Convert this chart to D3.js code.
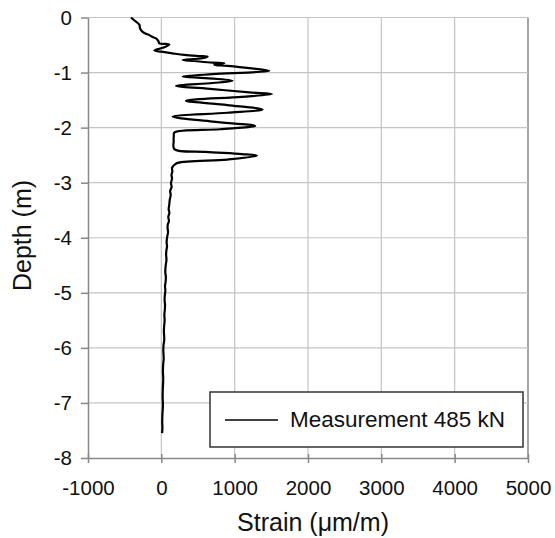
<!DOCTYPE html>
<html><head><meta charset="utf-8">
<script src="https://cdn.jsdelivr.net/npm/d3@7"></script>
<style>body{margin:0;background:#fff;} svg{display:block;} text{font-family:"Liberation Sans",Arial,sans-serif;fill:#111;}</style>
</head><body>
<svg id="c" width="555" height="538"></svg>
<script>
const xTicks = [-1000, 0, 1000, 2000, 3000, 4000, 5000];
const yTicks = [0, -1, -2, -3, -4, -5, -6, -7, -8];
const seriesName = "Measurement 485 kN";
const strain = [-413,-370,-300,-290,-255,-200,-163,-110,-72,-40,-27,60,109,20,-95,0,150,313,500,631,560,290,450,700,858,780,722,900,1200,1471,1300,700,290,600,971,700,200,700,1200,1508,1100,336,900,1380,900,154,700,1281,800,177,170,168,177,600,1100,1303,900,222,160,146,150,138,146,132,140,120,128,115,108,100,110,95,104,88,85,92,80,72,78,70,65,70,60,54,62,58,50,55,46,45,50,48,41,45,38,35,40,30,27,32,25,22,26,20,18,22,15,12,15,10,9];
const depth = [0,-0.05,-0.13,-0.20,-0.26,-0.30,-0.32,-0.36,-0.38,-0.43,-0.47,-0.48,-0.49,-0.55,-0.60,-0.62,-0.65,-0.68,-0.70,-0.71,-0.74,-0.77,-0.79,-0.82,-0.83,-0.85,-0.86,-0.88,-0.92,-0.965,-0.99,-1.03,-1.07,-1.10,-1.15,-1.19,-1.24,-1.30,-1.36,-1.39,-1.44,-1.51,-1.59,-1.67,-1.73,-1.80,-1.89,-1.97,-2.03,-2.09,-2.15,-2.25,-2.39,-2.44,-2.48,-2.51,-2.58,-2.64,-2.70,-2.73,-2.80,-2.86,-2.92,-3.01,-3.08,-3.15,-3.22,-3.31,-3.40,-3.48,-3.55,-3.62,-3.70,-3.76,-3.82,-3.90,-3.98,-4.08,-4.16,-4.22,-4.30,-4.40,-4.50,-4.62,-4.72,-4.80,-4.88,-4.95,-5.07,-5.15,-5.20,-5.30,-5.40,-5.50,-5.60,-5.70,-5.85,-5.95,-6.05,-6.20,-6.30,-6.45,-6.55,-6.76,-6.90,-7.05,-7.20,-7.35,-7.45,-7.55];

const svg = d3.select("#c");
const L = 88, R = 528, T = 17.5, B = 458;
const x = d3.scaleLinear().domain([-1000, 5000]).range([L, R]);
const y = d3.scaleLinear().domain([-8, 0]).range([B, T]);

// gridlines
svg.append("g").selectAll("line").data(xTicks.slice(1)).join("line")
  .attr("x1", d => x(d)).attr("x2", d => x(d)).attr("y1", T).attr("y2", B)
  .attr("stroke", d => d === 5000 ? "#888" : "#c4c4c4").attr("stroke-width", d => d === 5000 ? 1.5 : 1.2);
svg.append("g").selectAll("line").data(yTicks.slice(0, -1)).join("line")
  .attr("x1", L).attr("x2", R).attr("y1", d => y(d)).attr("y2", d => y(d))
  .attr("stroke", "#c4c4c4").attr("stroke-width", 1.2);

// axes
const fmt = d => String(d);
const xAxis = svg.append("g").attr("transform", `translate(0,${B})`)
  .call(d3.axisBottom(x).tickValues(xTicks).tickFormat(fmt).tickSize(5).tickSizeOuter(0).tickPadding(17));
const yAxis = svg.append("g").attr("transform", `translate(${L},0)`)
  .call(d3.axisLeft(y).tickValues(yTicks).tickFormat(fmt).tickSize(7).tickSizeOuter(0).tickPadding(9));
[xAxis, yAxis].forEach(g => {
  g.select(".domain").attr("stroke", "#888").attr("stroke-width", 1.5);
  g.selectAll(".tick line").attr("stroke", "#888").attr("stroke-width", 1.5);
  g.selectAll(".tick text").attr("font-size", 20.5).attr("fill", "#111")
   .attr("font-family", "Liberation Sans, Arial, sans-serif");
});
xAxis.selectAll(".tick").append("line").attr("y1", 0).attr("y2", -4).attr("stroke", "#888").attr("stroke-width", 1.5);

// curve
const pts = strain.map((s, i) => [s, depth[i]]);
svg.append("path").datum(pts)
  .attr("d", d3.line().x(d => x(d[0])).y(d => y(d[1])).curve(d3.curveCatmullRom.alpha(0.5)))
  .attr("fill", "none").attr("stroke", "#000").attr("stroke-width", 2.2).attr("stroke-linejoin", "round");

// titles
svg.append("text").attr("x", 313).attr("y", 531).attr("text-anchor", "middle")
  .attr("font-size", 25).text("Strain (\u03bcm/m)");
svg.append("text").attr("transform", `translate(31,235.5) rotate(-90)`)
  .attr("text-anchor", "middle").attr("font-size", 25).text("Depth (m)");

// legend
const lg = svg.append("g");
lg.append("rect").attr("x", 210).attr("y", 392).attr("width", 313).attr("height", 55)
  .attr("fill", "#fff").attr("stroke", "#333").attr("stroke-width", 1.5);
lg.append("line").attr("x1", 225).attr("x2", 278).attr("y1", 420).attr("y2", 420)
  .attr("stroke", "#000").attr("stroke-width", 1.3);
lg.append("text").attr("x", 290).attr("y", 427).attr("font-size", 22.5).text(seriesName);
</script>
</body></html>
